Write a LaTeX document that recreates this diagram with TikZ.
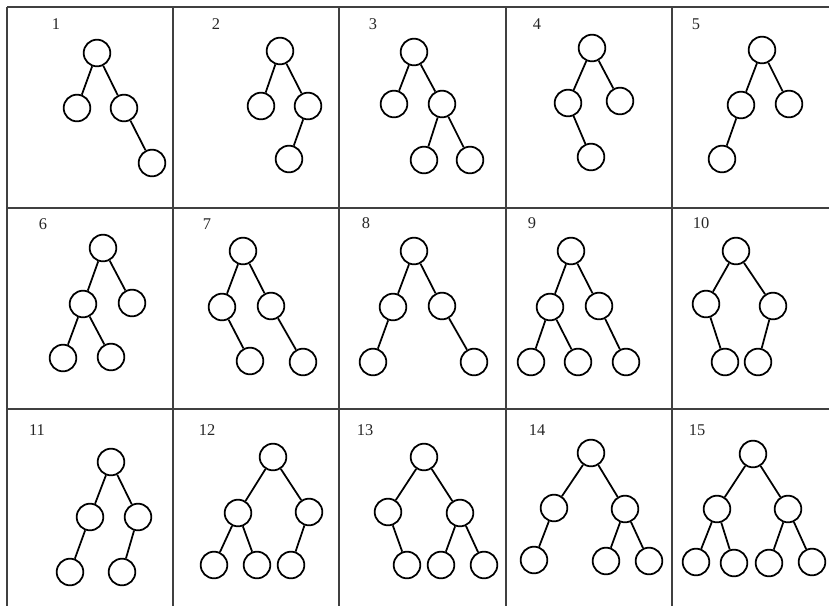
\documentclass[tikz,border=0pt]{standalone}
\usepackage{fontspec}
\setmainfont{Liberation Serif}

\begin{document}
\begin{tikzpicture}[x=0.03cm,y=-0.03cm,
    vtx/.style={circle,draw=black,line width=1.5pt,minimum size=0.8cm,inner sep=0pt},
    edge/.style={black,line width=1.5pt},
    lbl/.style={font=\fontsize{14}{16}\selectfont,text=black!85},
    rule/.style={draw=black!75,line width=0.9pt}]
  \useasboundingbox (0,0) rectangle (829,606);

  % table lines
  \draw[rule] (7,7) -- (829,7);
  \draw[rule] (7,208) -- (829,208);
  \draw[rule] (7,409) -- (829,409);
  \foreach \xx in {7,173,339,506,672}
    \draw[rule] (\xx,7) -- (\xx,606);

  % row 1
  \node[lbl] (n1) at (56,24) {1};
  \node[vtx] (t1) at (97,53) {};
  \node[vtx] (t1l) at (77,108) {};
  \node[vtx] (t1r) at (124,108) {};
  \node[vtx] (t1rr) at (152,163) {};
  \draw[edge] (t1l) -- (t1) -- (t1r) -- (t1rr);

  \node[lbl] (n2) at (216,24) {2};
  \node[vtx] (t2) at (280,51) {};
  \node[vtx] (t2l) at (261,106) {};
  \node[vtx] (t2r) at (308,106) {};
  \node[vtx] (t2rl) at (289,159) {};
  \draw[edge] (t2l) -- (t2) -- (t2r) -- (t2rl);

  \node[lbl] (n3) at (373,24) {3};
  \node[vtx] (t3) at (414,52) {};
  \node[vtx] (t3l) at (394,104) {};
  \node[vtx] (t3r) at (442,104) {};
  \node[vtx] (t3rl) at (424,160) {};
  \node[vtx] (t3rr) at (470,160) {};
  \draw[edge] (t3l) -- (t3) -- (t3r) -- (t3rl);
  \draw[edge] (t3r) -- (t3rr);

  \node[lbl] (n4) at (537,24) {4};
  \node[vtx] (t4) at (592,48) {};
  \node[vtx] (t4l) at (568,103) {};
  \node[vtx] (t4r) at (620,101) {};
  \node[vtx] (t4lr) at (591,157) {};
  \draw[edge] (t4lr) -- (t4l) -- (t4) -- (t4r);

  \node[lbl] (n5) at (696,24) {5};
  \node[vtx] (t5) at (762,50) {};
  \node[vtx] (t5l) at (741,105) {};
  \node[vtx] (t5r) at (789,104) {};
  \node[vtx] (t5ll) at (722,159) {};
  \draw[edge] (t5ll) -- (t5l) -- (t5) -- (t5r);

  % row 2
  \node[lbl] (n6) at (43,224) {6};
  \node[vtx] (t6) at (103,248) {};
  \node[vtx] (t6l) at (83,304) {};
  \node[vtx] (t6r) at (132,303) {};
  \node[vtx] (t6ll) at (63,358) {};
  \node[vtx] (t6lr) at (111,357) {};
  \draw[edge] (t6ll) -- (t6l) -- (t6) -- (t6r);
  \draw[edge] (t6l) -- (t6lr);

  \node[lbl] (n7) at (207,224) {7};
  \node[vtx] (t7) at (243,251) {};
  \node[vtx] (t7l) at (222,307) {};
  \node[vtx] (t7r) at (271,306) {};
  \node[vtx] (t7lr) at (250,361) {};
  \node[vtx] (t7rr) at (303,362) {};
  \draw[edge] (t7lr) -- (t7l) -- (t7) -- (t7r) -- (t7rr);

  \node[lbl] (n8) at (366,223) {8};
  \node[vtx] (t8) at (414,251) {};
  \node[vtx] (t8l) at (393,307) {};
  \node[vtx] (t8r) at (442,306) {};
  \node[vtx] (t8ll) at (373,362) {};
  \node[vtx] (t8rr) at (474,362) {};
  \draw[edge] (t8ll) -- (t8l) -- (t8) -- (t8r) -- (t8rr);

  \node[lbl] (n9) at (532,223) {9};
  \node[vtx] (t9) at (571,251) {};
  \node[vtx] (t9l) at (550,307) {};
  \node[vtx] (t9r) at (599,306) {};
  \node[vtx] (t9ll) at (531,362) {};
  \node[vtx] (t9lr) at (578,362) {};
  \node[vtx] (t9rr) at (626,362) {};
  \draw[edge] (t9ll) -- (t9l) -- (t9) -- (t9r) -- (t9rr);
  \draw[edge] (t9l) -- (t9lr);

  \node[lbl] (n10) at (701,223) {10};
  \node[vtx] (t10) at (736,251) {};
  \node[vtx] (t10l) at (706,304) {};
  \node[vtx] (t10r) at (773,306) {};
  \node[vtx] (t10lr) at (725,362) {};
  \node[vtx] (t10rl) at (758,362) {};
  \draw[edge] (t10lr) -- (t10l) -- (t10) -- (t10r) -- (t10rl);

  % row 3
  \node[lbl] (n11) at (37,430) {11};
  \node[vtx] (t11) at (111,462) {};
  \node[vtx] (t11l) at (90,517) {};
  \node[vtx] (t11r) at (138,517) {};
  \node[vtx] (t11ll) at (70,572) {};
  \node[vtx] (t11rl) at (122,572) {};
  \draw[edge] (t11ll) -- (t11l) -- (t11) -- (t11r) -- (t11rl);

  \node[lbl] (n12) at (207,430) {12};
  \node[vtx] (t12) at (273,457) {};
  \node[vtx] (t12l) at (238,513) {};
  \node[vtx] (t12r) at (309,512) {};
  \node[vtx] (t12ll) at (214,565) {};
  \node[vtx] (t12lr) at (257,565) {};
  \node[vtx] (t12rl) at (291,565) {};
  \draw[edge] (t12ll) -- (t12l) -- (t12) -- (t12r) -- (t12rl);
  \draw[edge] (t12l) -- (t12lr);

  \node[lbl] (n13) at (365,430) {13};
  \node[vtx] (t13) at (424,457) {};
  \node[vtx] (t13l) at (388,512) {};
  \node[vtx] (t13r) at (460,513) {};
  \node[vtx] (t13lr) at (407,565) {};
  \node[vtx] (t13rl) at (441,565) {};
  \node[vtx] (t13rr) at (484,565) {};
  \draw[edge] (t13lr) -- (t13l) -- (t13) -- (t13r) -- (t13rr);
  \draw[edge] (t13r) -- (t13rl);

  \node[lbl] (n14) at (537,430) {14};
  \node[vtx] (t14) at (591,453) {};
  \node[vtx] (t14l) at (554,508) {};
  \node[vtx] (t14r) at (625,509) {};
  \node[vtx] (t14ll) at (534,560) {};
  \node[vtx] (t14rl) at (606,561) {};
  \node[vtx] (t14rr) at (649,561) {};
  \draw[edge] (t14ll) -- (t14l) -- (t14) -- (t14r) -- (t14rr);
  \draw[edge] (t14r) -- (t14rl);

  \node[lbl] (n15) at (697,430) {15};
  \node[vtx] (t15) at (753,454) {};
  \node[vtx] (t15l) at (717,509) {};
  \node[vtx] (t15r) at (788,509) {};
  \node[vtx] (t15ll) at (696,562) {};
  \node[vtx] (t15lr) at (734,563) {};
  \node[vtx] (t15rl) at (769,563) {};
  \node[vtx] (t15rr) at (812,562) {};
  \draw[edge] (t15ll) -- (t15l) -- (t15) -- (t15r) -- (t15rr);
  \draw[edge] (t15l) -- (t15lr);
  \draw[edge] (t15r) -- (t15rl);
\end{tikzpicture}
\end{document}
